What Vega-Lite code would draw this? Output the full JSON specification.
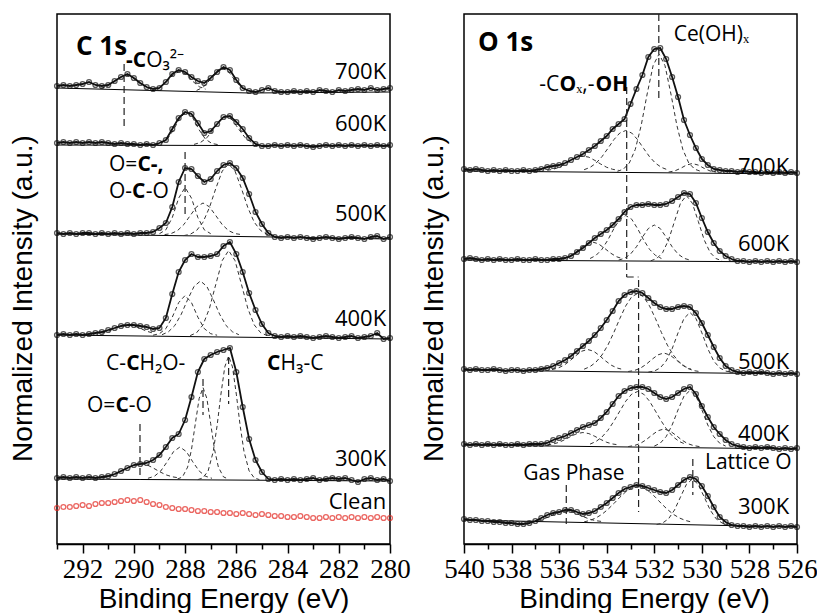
{
"$schema": "https://vega.github.io/schema/vega-lite/v6.json",
"padding": {"left": 8, "top": 12, "right": 0, "bottom": 0},
"spacing": 8,
"config": {
  "view": {"stroke": "black", "strokeWidth": 1.5},
  "axis": {"domainColor": "black", "tickColor": "black", "domainWidth": 1.5, "tickWidth": 1.5, "labelColor": "black", "titleColor": "black", "titleFontWeight": "normal", "labelFont": "Liberation Sans Narrow", "titleFont": "Liberation Sans", "labelFontSize": 27, "titleFontSize": 28, "grid": false}
},
"datasets": {
"cobs": [
{"s":"700K","e":293,"y":458},{"s":"700K","e":292.75,"y":459},{"s":"700K","e":292.5,"y":458},{"s":"700K","e":292.25,"y":459},{"s":"700K","e":292,"y":460},{"s":"700K","e":291.75,"y":462},{"s":"700K","e":291.5,"y":459},{"s":"700K","e":291.25,"y":458},{"s":"700K","e":291,"y":459},{"s":"700K","e":290.75,"y":463},{"s":"700K","e":290.5,"y":467},{"s":"700K","e":290.25,"y":470},{"s":"700K","e":290,"y":466},{"s":"700K","e":289.75,"y":461},{"s":"700K","e":289.5,"y":457},{"s":"700K","e":289.25,"y":455},{"s":"700K","e":289,"y":456},{"s":"700K","e":288.75,"y":462},{"s":"700K","e":288.5,"y":470},{"s":"700K","e":288.25,"y":474},{"s":"700K","e":288,"y":472},{"s":"700K","e":287.75,"y":467},{"s":"700K","e":287.5,"y":463},{"s":"700K","e":287.25,"y":461},{"s":"700K","e":287,"y":466},{"s":"700K","e":286.75,"y":472},{"s":"700K","e":286.5,"y":477},{"s":"700K","e":286.25,"y":474},{"s":"700K","e":286,"y":464},{"s":"700K","e":285.75,"y":456},{"s":"700K","e":285.5,"y":453},{"s":"700K","e":285.25,"y":452},{"s":"700K","e":285,"y":454},{"s":"700K","e":284.75,"y":456},{"s":"700K","e":284.5,"y":453},{"s":"700K","e":284.25,"y":452},{"s":"700K","e":284,"y":452},{"s":"700K","e":283.75,"y":453},{"s":"700K","e":283.5,"y":452},{"s":"700K","e":283.25,"y":453},{"s":"700K","e":283,"y":452},{"s":"700K","e":282.75,"y":454},{"s":"700K","e":282.5,"y":453},{"s":"700K","e":282.25,"y":452},{"s":"700K","e":282,"y":454},{"s":"700K","e":281.75,"y":453},{"s":"700K","e":281.5,"y":454},{"s":"700K","e":281.25,"y":455},{"s":"700K","e":281,"y":454},{"s":"700K","e":280.75,"y":456},{"s":"700K","e":280.5,"y":454},{"s":"700K","e":280.25,"y":455},{"s":"700K","e":280,"y":456},
{"s":"600K","e":293,"y":401},{"s":"600K","e":292.75,"y":402},{"s":"600K","e":292.5,"y":401},{"s":"600K","e":292.25,"y":402},{"s":"600K","e":292,"y":401},{"s":"600K","e":291.75,"y":402},{"s":"600K","e":291.5,"y":401},{"s":"600K","e":291.25,"y":402},{"s":"600K","e":291,"y":401},{"s":"600K","e":290.75,"y":400},{"s":"600K","e":290.5,"y":401},{"s":"600K","e":290.25,"y":400},{"s":"600K","e":290,"y":400},{"s":"600K","e":289.75,"y":399},{"s":"600K","e":289.5,"y":400},{"s":"600K","e":289.25,"y":399},{"s":"600K","e":289,"y":401},{"s":"600K","e":288.75,"y":404},{"s":"600K","e":288.5,"y":415},{"s":"600K","e":288.25,"y":426},{"s":"600K","e":288,"y":432},{"s":"600K","e":287.75,"y":430},{"s":"600K","e":287.5,"y":421},{"s":"600K","e":287.25,"y":411},{"s":"600K","e":287,"y":413},{"s":"600K","e":286.75,"y":420},{"s":"600K","e":286.5,"y":427},{"s":"600K","e":286.25,"y":428},{"s":"600K","e":286,"y":422},{"s":"600K","e":285.75,"y":415},{"s":"600K","e":285.5,"y":406},{"s":"600K","e":285.25,"y":400},{"s":"600K","e":285,"y":398},{"s":"600K","e":284.75,"y":398},{"s":"600K","e":284.5,"y":399},{"s":"600K","e":284.25,"y":398},{"s":"600K","e":284,"y":399},{"s":"600K","e":283.75,"y":398},{"s":"600K","e":283.5,"y":399},{"s":"600K","e":283.25,"y":398},{"s":"600K","e":283,"y":397},{"s":"600K","e":282.75,"y":398},{"s":"600K","e":282.5,"y":399},{"s":"600K","e":282.25,"y":398},{"s":"600K","e":282,"y":399},{"s":"600K","e":281.75,"y":398},{"s":"600K","e":281.5,"y":399},{"s":"600K","e":281.25,"y":398},{"s":"600K","e":281,"y":399},{"s":"600K","e":280.75,"y":398},{"s":"600K","e":280.5,"y":399},{"s":"600K","e":280.25,"y":398},{"s":"600K","e":280,"y":399},
{"s":"500K","e":293,"y":311},{"s":"500K","e":292.75,"y":310},{"s":"500K","e":292.5,"y":311},{"s":"500K","e":292.25,"y":310},{"s":"500K","e":292,"y":311},{"s":"500K","e":291.75,"y":311},{"s":"500K","e":291.5,"y":310},{"s":"500K","e":291.25,"y":311},{"s":"500K","e":291,"y":310},{"s":"500K","e":290.75,"y":311},{"s":"500K","e":290.5,"y":310},{"s":"500K","e":290.25,"y":311},{"s":"500K","e":290,"y":310},{"s":"500K","e":289.75,"y":311},{"s":"500K","e":289.5,"y":311},{"s":"500K","e":289.25,"y":312},{"s":"500K","e":289,"y":316},{"s":"500K","e":288.75,"y":321},{"s":"500K","e":288.5,"y":337},{"s":"500K","e":288.25,"y":362},{"s":"500K","e":288,"y":376},{"s":"500K","e":287.75,"y":375},{"s":"500K","e":287.5,"y":368},{"s":"500K","e":287.25,"y":362},{"s":"500K","e":287,"y":365},{"s":"500K","e":286.75,"y":373},{"s":"500K","e":286.5,"y":379},{"s":"500K","e":286.25,"y":381},{"s":"500K","e":286,"y":376},{"s":"500K","e":285.75,"y":366},{"s":"500K","e":285.5,"y":350},{"s":"500K","e":285.25,"y":332},{"s":"500K","e":285,"y":320},{"s":"500K","e":284.75,"y":311},{"s":"500K","e":284.5,"y":307},{"s":"500K","e":284.25,"y":306},{"s":"500K","e":284,"y":307},{"s":"500K","e":283.75,"y":306},{"s":"500K","e":283.5,"y":307},{"s":"500K","e":283.25,"y":306},{"s":"500K","e":283,"y":305},{"s":"500K","e":282.75,"y":306},{"s":"500K","e":282.5,"y":307},{"s":"500K","e":282.25,"y":306},{"s":"500K","e":282,"y":305},{"s":"500K","e":281.75,"y":306},{"s":"500K","e":281.5,"y":307},{"s":"500K","e":281.25,"y":306},{"s":"500K","e":281,"y":305},{"s":"500K","e":280.75,"y":307},{"s":"500K","e":280.5,"y":308},{"s":"500K","e":280.25,"y":305},{"s":"500K","e":280,"y":307},
{"s":"400K","e":293,"y":209},{"s":"400K","e":292.75,"y":210},{"s":"400K","e":292.5,"y":209},{"s":"400K","e":292.25,"y":210},{"s":"400K","e":292,"y":209},{"s":"400K","e":291.75,"y":210},{"s":"400K","e":291.5,"y":211},{"s":"400K","e":291.25,"y":212},{"s":"400K","e":291,"y":214},{"s":"400K","e":290.75,"y":216},{"s":"400K","e":290.5,"y":218},{"s":"400K","e":290.25,"y":219},{"s":"400K","e":290,"y":219},{"s":"400K","e":289.75,"y":218},{"s":"400K","e":289.5,"y":217},{"s":"400K","e":289.25,"y":215},{"s":"400K","e":289,"y":216},{"s":"400K","e":288.75,"y":226},{"s":"400K","e":288.5,"y":250},{"s":"400K","e":288.25,"y":272},{"s":"400K","e":288,"y":284},{"s":"400K","e":287.75,"y":290},{"s":"400K","e":287.5,"y":287},{"s":"400K","e":287.25,"y":287},{"s":"400K","e":287,"y":288},{"s":"400K","e":286.75,"y":290},{"s":"400K","e":286.5,"y":298},{"s":"400K","e":286.25,"y":302},{"s":"400K","e":286,"y":290},{"s":"400K","e":285.75,"y":272},{"s":"400K","e":285.5,"y":251},{"s":"400K","e":285.25,"y":234},{"s":"400K","e":285,"y":220},{"s":"400K","e":284.75,"y":211},{"s":"400K","e":284.5,"y":208},{"s":"400K","e":284.25,"y":207},{"s":"400K","e":284,"y":208},{"s":"400K","e":283.75,"y":207},{"s":"400K","e":283.5,"y":208},{"s":"400K","e":283.25,"y":207},{"s":"400K","e":283,"y":206},{"s":"400K","e":282.75,"y":207},{"s":"400K","e":282.5,"y":208},{"s":"400K","e":282.25,"y":207},{"s":"400K","e":282,"y":206},{"s":"400K","e":281.75,"y":207},{"s":"400K","e":281.5,"y":208},{"s":"400K","e":281.25,"y":206},{"s":"400K","e":281,"y":207},{"s":"400K","e":280.75,"y":208},{"s":"400K","e":280.5,"y":211},{"s":"400K","e":280.25,"y":205},{"s":"400K","e":280,"y":206},
{"s":"300K","e":293,"y":66},{"s":"300K","e":292.75,"y":67},{"s":"300K","e":292.5,"y":66},{"s":"300K","e":292.25,"y":67},{"s":"300K","e":292,"y":66},{"s":"300K","e":291.75,"y":67},{"s":"300K","e":291.5,"y":66},{"s":"300K","e":291.25,"y":67},{"s":"300K","e":291,"y":68},{"s":"300K","e":290.75,"y":70},{"s":"300K","e":290.5,"y":73},{"s":"300K","e":290.25,"y":76},{"s":"300K","e":290,"y":79},{"s":"300K","e":289.75,"y":80},{"s":"300K","e":289.5,"y":81},{"s":"300K","e":289.25,"y":84},{"s":"300K","e":289,"y":89},{"s":"300K","e":288.75,"y":97},{"s":"300K","e":288.5,"y":106},{"s":"300K","e":288.25,"y":110},{"s":"300K","e":288,"y":124},{"s":"300K","e":287.75,"y":147},{"s":"300K","e":287.5,"y":172},{"s":"300K","e":287.25,"y":185},{"s":"300K","e":287,"y":189},{"s":"300K","e":286.75,"y":192},{"s":"300K","e":286.5,"y":194},{"s":"300K","e":286.25,"y":196},{"s":"300K","e":286,"y":172},{"s":"300K","e":285.75,"y":137},{"s":"300K","e":285.5,"y":105},{"s":"300K","e":285.25,"y":84},{"s":"300K","e":285,"y":72},{"s":"300K","e":284.75,"y":65},{"s":"300K","e":284.5,"y":64},{"s":"300K","e":284.25,"y":65},{"s":"300K","e":284,"y":64},{"s":"300K","e":283.75,"y":65},{"s":"300K","e":283.5,"y":64},{"s":"300K","e":283.25,"y":65},{"s":"300K","e":283,"y":66},{"s":"300K","e":282.75,"y":64},{"s":"300K","e":282.5,"y":65},{"s":"300K","e":282.25,"y":66},{"s":"300K","e":282,"y":65},{"s":"300K","e":281.75,"y":66},{"s":"300K","e":281.5,"y":64},{"s":"300K","e":281.25,"y":62},{"s":"300K","e":281,"y":65},{"s":"300K","e":280.75,"y":66},{"s":"300K","e":280.5,"y":64},{"s":"300K","e":280.25,"y":65},{"s":"300K","e":280,"y":63},
{"s":"Clean","e":293,"y":36},{"s":"Clean","e":292.75,"y":37},{"s":"Clean","e":292.5,"y":37},{"s":"Clean","e":292.25,"y":38},{"s":"Clean","e":292,"y":39},{"s":"Clean","e":291.75,"y":38},{"s":"Clean","e":291.5,"y":40},{"s":"Clean","e":291.25,"y":41},{"s":"Clean","e":291,"y":41},{"s":"Clean","e":290.75,"y":42},{"s":"Clean","e":290.5,"y":43},{"s":"Clean","e":290.25,"y":44},{"s":"Clean","e":290,"y":43},{"s":"Clean","e":289.75,"y":44},{"s":"Clean","e":289.5,"y":42},{"s":"Clean","e":289.25,"y":40},{"s":"Clean","e":289,"y":39},{"s":"Clean","e":288.75,"y":37},{"s":"Clean","e":288.5,"y":36},{"s":"Clean","e":288.25,"y":35},{"s":"Clean","e":288,"y":35},{"s":"Clean","e":287.75,"y":34},{"s":"Clean","e":287.5,"y":33},{"s":"Clean","e":287.25,"y":33},{"s":"Clean","e":287,"y":32},{"s":"Clean","e":286.75,"y":32},{"s":"Clean","e":286.5,"y":31},{"s":"Clean","e":286.25,"y":31},{"s":"Clean","e":286,"y":30},{"s":"Clean","e":285.75,"y":31},{"s":"Clean","e":285.5,"y":30},{"s":"Clean","e":285.25,"y":29},{"s":"Clean","e":285,"y":30},{"s":"Clean","e":284.75,"y":29},{"s":"Clean","e":284.5,"y":28},{"s":"Clean","e":284.25,"y":28},{"s":"Clean","e":284,"y":27},{"s":"Clean","e":283.75,"y":27},{"s":"Clean","e":283.5,"y":28},{"s":"Clean","e":283.25,"y":27},{"s":"Clean","e":283,"y":26},{"s":"Clean","e":282.75,"y":26},{"s":"Clean","e":282.5,"y":27},{"s":"Clean","e":282.25,"y":26},{"s":"Clean","e":282,"y":27},{"s":"Clean","e":281.75,"y":26},{"s":"Clean","e":281.5,"y":27},{"s":"Clean","e":281.25,"y":26},{"s":"Clean","e":281,"y":27},{"s":"Clean","e":280.75,"y":26},{"s":"Clean","e":280.5,"y":27},{"s":"Clean","e":280.25,"y":26},{"s":"Clean","e":280,"y":26}
],
"cbg": [
{"s":"700K","e":293,"y":456},{"s":"700K","e":285.5,"y":451},{"s":"700K","e":280,"y":452},
{"s":"600K","e":293,"y":399},{"s":"600K","e":280,"y":398},
{"s":"500K","e":293,"y":310},{"s":"500K","e":284.5,"y":307},{"s":"500K","e":280,"y":305},
{"s":"400K","e":293,"y":209},{"s":"400K","e":280,"y":205},
{"s":"300K","e":293,"y":65},{"s":"300K","e":280,"y":63}
],
"cc": [
{"c":"7a","e":289.3,"y":455.6},{"c":"7a","e":289.55,"y":457.4},{"c":"7a","e":289.8,"y":461.4},{"c":"7a","e":290.05,"y":466.5},{"c":"7a","e":290.3,"y":469},{"c":"7a","e":290.55,"y":466.5},{"c":"7a","e":290.8,"y":461.4},{"c":"7a","e":291.05,"y":457.4},{"c":"7a","e":291.3,"y":455.6},
{"c":"7b","e":287.2,"y":454.8},{"c":"7b","e":287.45,"y":457.3},{"c":"7b","e":287.7,"y":462.7},{"c":"7b","e":287.95,"y":469.6},{"c":"7b","e":288.2,"y":473},{"c":"7b","e":288.45,"y":469.6},{"c":"7b","e":288.7,"y":462.7},{"c":"7b","e":288.95,"y":457.3},{"c":"7b","e":289.2,"y":454.8},
{"c":"7c","e":285.55,"y":453.6},{"c":"7c","e":285.8,"y":456.6},{"c":"7c","e":286.05,"y":463.5},{"c":"7c","e":286.3,"y":472.3},{"c":"7c","e":286.55,"y":476.5},{"c":"7c","e":286.8,"y":472.3},{"c":"7c","e":287.05,"y":463.5},{"c":"7c","e":287.3,"y":456.6},{"c":"7c","e":287.55,"y":453.6},
{"c":"6a","e":286.7,"y":399.3},{"c":"6a","e":286.95,"y":400.5},{"c":"6a","e":287.2,"y":404.7},{"c":"6a","e":287.45,"y":414.1},{"c":"6a","e":287.7,"y":426.2},{"c":"6a","e":287.95,"y":432},{"c":"6a","e":288.2,"y":426.2},{"c":"6a","e":288.45,"y":414.1},{"c":"6a","e":288.7,"y":404.7},{"c":"6a","e":288.95,"y":400.5},{"c":"6a","e":289.2,"y":399.3},
{"c":"6b","e":285.15,"y":399.6},{"c":"6b","e":285.4,"y":401.5},{"c":"6b","e":285.65,"y":406.2},{"c":"6b","e":285.9,"y":414.6},{"c":"6b","e":286.15,"y":423.9},{"c":"6b","e":286.4,"y":428},{"c":"6b","e":286.65,"y":423.9},{"c":"6b","e":286.9,"y":414.6},{"c":"6b","e":287.15,"y":406.2},{"c":"6b","e":287.4,"y":401.5},{"c":"6b","e":287.65,"y":399.6},
{"c":"5a","e":287,"y":310.3},{"c":"5a","e":287.25,"y":314.2},{"c":"5a","e":287.5,"y":326.4},{"c":"5a","e":287.75,"y":345.9},{"c":"5a","e":288,"y":356.5},{"c":"5a","e":288.25,"y":345.9},{"c":"5a","e":288.5,"y":326.4},{"c":"5a","e":288.75,"y":314.2},{"c":"5a","e":289,"y":310.3},
{"c":"5b","e":285.8,"y":309.4},{"c":"5b","e":286.05,"y":310.4},{"c":"5b","e":286.3,"y":313.3},{"c":"5b","e":286.55,"y":319.4},{"c":"5b","e":286.8,"y":328.4},{"c":"5b","e":287.05,"y":337.2},{"c":"5b","e":287.3,"y":341},{"c":"5b","e":287.55,"y":337.2},{"c":"5b","e":287.8,"y":328.4},{"c":"5b","e":288.05,"y":319.4},{"c":"5b","e":288.3,"y":313.3},{"c":"5b","e":288.55,"y":310.4},{"c":"5b","e":288.8,"y":309.4},
{"c":"5c","e":284.55,"y":308.4},{"c":"5c","e":284.8,"y":309.7},{"c":"5c","e":285.05,"y":313.5},{"c":"5c","e":285.3,"y":321.8},{"c":"5c","e":285.55,"y":336.4},{"c":"5c","e":285.8,"y":355.6},{"c":"5c","e":286.05,"y":372.9},{"c":"5c","e":286.3,"y":380},{"c":"5c","e":286.55,"y":372.9},{"c":"5c","e":286.8,"y":355.6},{"c":"5c","e":287.05,"y":336.4},{"c":"5c","e":287.3,"y":321.8},{"c":"5c","e":287.55,"y":313.5},{"c":"5c","e":287.8,"y":309.7},{"c":"5c","e":288.05,"y":308.4},
{"c":"4z","e":289.25,"y":210.9},{"c":"4z","e":289.5,"y":212.8},{"c":"4z","e":289.75,"y":215.6},{"c":"4z","e":290,"y":218.3},{"c":"4z","e":290.25,"y":219.5},{"c":"4z","e":290.5,"y":218.3},{"c":"4z","e":290.75,"y":215.6},{"c":"4z","e":291,"y":212.8},{"c":"4z","e":291.25,"y":210.9},
{"c":"4a","e":286.75,"y":208.8},{"c":"4a","e":287,"y":210.3},{"c":"4a","e":287.25,"y":215.4},{"c":"4a","e":287.5,"y":226.8},{"c":"4a","e":287.75,"y":241.4},{"c":"4a","e":288,"y":248.5},{"c":"4a","e":288.25,"y":241.4},{"c":"4a","e":288.5,"y":226.8},{"c":"4a","e":288.75,"y":215.4},{"c":"4a","e":289,"y":210.3},{"c":"4a","e":289.25,"y":208.8},
{"c":"4b","e":285.9,"y":209.3},{"c":"4b","e":286.15,"y":212.2},{"c":"4b","e":286.4,"y":218.5},{"c":"4b","e":286.65,"y":229.7},{"c":"4b","e":286.9,"y":244.4},{"c":"4b","e":287.15,"y":257.6},{"c":"4b","e":287.4,"y":263},{"c":"4b","e":287.65,"y":257.6},{"c":"4b","e":287.9,"y":244.4},{"c":"4b","e":288.15,"y":229.7},{"c":"4b","e":288.4,"y":218.5},{"c":"4b","e":288.65,"y":212.2},{"c":"4b","e":288.9,"y":209.3},
{"c":"4c","e":284.8,"y":208.4},{"c":"4c","e":285.05,"y":211.3},{"c":"4c","e":285.3,"y":219.1},{"c":"4c","e":285.55,"y":235.5},{"c":"4c","e":285.8,"y":259.7},{"c":"4c","e":286.05,"y":283.4},{"c":"4c","e":286.3,"y":293.5},{"c":"4c","e":286.55,"y":283.4},{"c":"4c","e":286.8,"y":259.7},{"c":"4c","e":287.05,"y":235.5},{"c":"4c","e":287.3,"y":219.1},{"c":"4c","e":287.55,"y":211.3},{"c":"4c","e":287.8,"y":208.4},
{"c":"3a","e":288.25,"y":66.2},{"c":"3a","e":288.5,"y":67.2},{"c":"3a","e":288.75,"y":69.2},{"c":"3a","e":289,"y":72.4},{"c":"3a","e":289.25,"y":76.1},{"c":"3a","e":289.5,"y":79.3},{"c":"3a","e":289.75,"y":80.5},{"c":"3a","e":290,"y":79.3},{"c":"3a","e":290.25,"y":76.1},{"c":"3a","e":290.5,"y":72.4},{"c":"3a","e":290.75,"y":69.2},{"c":"3a","e":291,"y":67.2},{"c":"3a","e":291.25,"y":66.2},
{"c":"3b","e":286.95,"y":65.7},{"c":"3b","e":287.2,"y":67.7},{"c":"3b","e":287.45,"y":73},{"c":"3b","e":287.7,"y":82.2},{"c":"3b","e":287.95,"y":92.4},{"c":"3b","e":288.2,"y":97},{"c":"3b","e":288.45,"y":92.4},{"c":"3b","e":288.7,"y":82.2},{"c":"3b","e":288.95,"y":73},{"c":"3b","e":289.2,"y":67.7},{"c":"3b","e":289.45,"y":65.7},
{"c":"3c","e":286.3,"y":64.9},{"c":"3c","e":286.5,"y":67.1},{"c":"3c","e":286.7,"y":76.9},{"c":"3c","e":286.85,"y":94.4},{"c":"3c","e":287,"y":120.3},{"c":"3c","e":287.15,"y":145.6},{"c":"3c","e":287.3,"y":156.5},{"c":"3c","e":287.45,"y":145.6},{"c":"3c","e":287.6,"y":120.3},{"c":"3c","e":287.75,"y":94.4},{"c":"3c","e":287.9,"y":76.9},{"c":"3c","e":288.1,"y":67.1},{"c":"3c","e":288.3,"y":64.9},
{"c":"3d","e":285.1,"y":64.4},{"c":"3d","e":285.3,"y":66.1},{"c":"3d","e":285.5,"y":73.1},{"c":"3d","e":285.7,"y":92.5},{"c":"3d","e":285.85,"y":118.3},{"c":"3d","e":286,"y":149.9},{"c":"3d","e":286.15,"y":177.1},{"c":"3d","e":286.3,"y":188},{"c":"3d","e":286.45,"y":177.1},{"c":"3d","e":286.6,"y":149.9},{"c":"3d","e":286.75,"y":118.3},{"c":"3d","e":286.9,"y":92.5},{"c":"3d","e":287.1,"y":73.1},{"c":"3d","e":287.3,"y":66.1},{"c":"3d","e":287.5,"y":64.4}
],
"cref": [
{"e":290.38,"y":480,"y2":417},{"e":288.0,"y":392,"y2":330},{"e":289.76,"y":120,"y2":64},{"e":287.3,"y":165,"y2":129},{"e":286.3,"y":187,"y2":140}
],
"clab": [
{"e":280.15,"y":472,"t":"700K"},{"e":280.15,"y":420,"t":"600K"},{"e":280.15,"y":330,"t":"500K"},{"e":280.15,"y":225,"t":"400K"},{"e":280.15,"y":85,"t":"300K"},{"e":280.15,"y":42,"t":"Clean"}
],
"cann": [
{"e":289.52,"y":483,"t":"O₃²⁻"},{"e":290.97,"y":379,"t":"O="},{"e":290.97,"y":352,"t":"O-"},{"e":289.54,"y":352,"t":"-O"},{"e":291.09,"y":180,"t":"C-"},{"e":289.78,"y":180,"t":"H₂O-"},{"e":284.27,"y":180,"t":"H₃-C"},{"e":291.83,"y":138,"t":"O="},{"e":290.2,"y":138,"t":"-O"}
],
"cbold": [
{"e":290.305,"y":483,"t":"-C"},{"e":289.86,"y":379,"t":"C-,"},{"e":290.07,"y":352,"t":"C"},{"e":290.3,"y":180,"t":"C"},{"e":284.8,"y":180,"t":"C"},{"e":290.72,"y":138,"t":"C"}
],
"ctitle": [{"e":292.26,"y":497,"t":"C 1s"}],
"oobs": [
{"s":"700K","e":540,"y":375},{"s":"700K","e":539.75,"y":374},{"s":"700K","e":539.5,"y":375},{"s":"700K","e":539.25,"y":374},{"s":"700K","e":539,"y":373},{"s":"700K","e":538.75,"y":374},{"s":"700K","e":538.5,"y":373},{"s":"700K","e":538.25,"y":374},{"s":"700K","e":538,"y":373},{"s":"700K","e":537.75,"y":373},{"s":"700K","e":537.5,"y":374},{"s":"700K","e":537.25,"y":373},{"s":"700K","e":537,"y":374},{"s":"700K","e":536.75,"y":375},{"s":"700K","e":536.5,"y":377},{"s":"700K","e":536.25,"y":378},{"s":"700K","e":536,"y":379},{"s":"700K","e":535.75,"y":381},{"s":"700K","e":535.5,"y":384},{"s":"700K","e":535.25,"y":387},{"s":"700K","e":535,"y":390},{"s":"700K","e":534.75,"y":394},{"s":"700K","e":534.5,"y":398},{"s":"700K","e":534.25,"y":403},{"s":"700K","e":534,"y":408},{"s":"700K","e":533.75,"y":415},{"s":"700K","e":533.5,"y":420},{"s":"700K","e":533.25,"y":425},{"s":"700K","e":533,"y":440},{"s":"700K","e":532.75,"y":455},{"s":"700K","e":532.5,"y":469},{"s":"700K","e":532.25,"y":487},{"s":"700K","e":532,"y":495},{"s":"700K","e":531.75,"y":496},{"s":"700K","e":531.5,"y":485},{"s":"700K","e":531.25,"y":467},{"s":"700K","e":531,"y":447},{"s":"700K","e":530.75,"y":424},{"s":"700K","e":530.5,"y":409},{"s":"700K","e":530.25,"y":396},{"s":"700K","e":530,"y":385},{"s":"700K","e":529.75,"y":379},{"s":"700K","e":529.5,"y":375},{"s":"700K","e":529.25,"y":374},{"s":"700K","e":529,"y":373},{"s":"700K","e":528.75,"y":373},{"s":"700K","e":528.5,"y":372},{"s":"700K","e":528.25,"y":373},{"s":"700K","e":528,"y":372},{"s":"700K","e":527.75,"y":372},{"s":"700K","e":527.5,"y":371},{"s":"700K","e":527.25,"y":372},{"s":"700K","e":527,"y":371},{"s":"700K","e":526.75,"y":372},{"s":"700K","e":526.5,"y":371},{"s":"700K","e":526.25,"y":372},{"s":"700K","e":526,"y":371},
{"s":"600K","e":540,"y":285},{"s":"600K","e":539.75,"y":286},{"s":"600K","e":539.5,"y":285},{"s":"600K","e":539.25,"y":284},{"s":"600K","e":539,"y":285},{"s":"600K","e":538.75,"y":284},{"s":"600K","e":538.5,"y":285},{"s":"600K","e":538.25,"y":284},{"s":"600K","e":538,"y":284},{"s":"600K","e":537.75,"y":285},{"s":"600K","e":537.5,"y":284},{"s":"600K","e":537.25,"y":284},{"s":"600K","e":537,"y":285},{"s":"600K","e":536.75,"y":284},{"s":"600K","e":536.5,"y":284},{"s":"600K","e":536.25,"y":285},{"s":"600K","e":536,"y":285},{"s":"600K","e":535.75,"y":286},{"s":"600K","e":535.5,"y":288},{"s":"600K","e":535.25,"y":292},{"s":"600K","e":535,"y":296},{"s":"600K","e":534.75,"y":301},{"s":"600K","e":534.5,"y":306},{"s":"600K","e":534.25,"y":310},{"s":"600K","e":534,"y":314},{"s":"600K","e":533.75,"y":319},{"s":"600K","e":533.5,"y":325},{"s":"600K","e":533.25,"y":332},{"s":"600K","e":533,"y":337},{"s":"600K","e":532.75,"y":339},{"s":"600K","e":532.5,"y":339},{"s":"600K","e":532.25,"y":340},{"s":"600K","e":532,"y":339},{"s":"600K","e":531.75,"y":339},{"s":"600K","e":531.5,"y":340},{"s":"600K","e":531.25,"y":343},{"s":"600K","e":531,"y":347},{"s":"600K","e":530.75,"y":351},{"s":"600K","e":530.5,"y":350},{"s":"600K","e":530.25,"y":341},{"s":"600K","e":530,"y":326},{"s":"600K","e":529.75,"y":312},{"s":"600K","e":529.5,"y":301},{"s":"600K","e":529.25,"y":293},{"s":"600K","e":529,"y":288},{"s":"600K","e":528.75,"y":285},{"s":"600K","e":528.5,"y":283},{"s":"600K","e":528.25,"y":283},{"s":"600K","e":528,"y":282},{"s":"600K","e":527.75,"y":283},{"s":"600K","e":527.5,"y":282},{"s":"600K","e":527.25,"y":283},{"s":"600K","e":527,"y":282},{"s":"600K","e":526.75,"y":283},{"s":"600K","e":526.5,"y":282},{"s":"600K","e":526.25,"y":283},{"s":"600K","e":526,"y":282},
{"s":"500K","e":540,"y":175},{"s":"500K","e":539.75,"y":174},{"s":"500K","e":539.5,"y":175},{"s":"500K","e":539.25,"y":174},{"s":"500K","e":539,"y":174},{"s":"500K","e":538.75,"y":175},{"s":"500K","e":538.5,"y":174},{"s":"500K","e":538.25,"y":173},{"s":"500K","e":538,"y":174},{"s":"500K","e":537.75,"y":174},{"s":"500K","e":537.5,"y":173},{"s":"500K","e":537.25,"y":174},{"s":"500K","e":537,"y":174},{"s":"500K","e":536.75,"y":175},{"s":"500K","e":536.5,"y":176},{"s":"500K","e":536.25,"y":178},{"s":"500K","e":536,"y":181},{"s":"500K","e":535.75,"y":184},{"s":"500K","e":535.5,"y":188},{"s":"500K","e":535.25,"y":193},{"s":"500K","e":535,"y":198},{"s":"500K","e":534.75,"y":203},{"s":"500K","e":534.5,"y":209},{"s":"500K","e":534.25,"y":216},{"s":"500K","e":534,"y":224},{"s":"500K","e":533.75,"y":233},{"s":"500K","e":533.5,"y":243},{"s":"500K","e":533.25,"y":249},{"s":"500K","e":533,"y":252},{"s":"500K","e":532.75,"y":253},{"s":"500K","e":532.5,"y":251},{"s":"500K","e":532.25,"y":246},{"s":"500K","e":532,"y":241},{"s":"500K","e":531.75,"y":237},{"s":"500K","e":531.5,"y":235},{"s":"500K","e":531.25,"y":235},{"s":"500K","e":531,"y":237},{"s":"500K","e":530.75,"y":238},{"s":"500K","e":530.5,"y":237},{"s":"500K","e":530.25,"y":231},{"s":"500K","e":530,"y":221},{"s":"500K","e":529.75,"y":209},{"s":"500K","e":529.5,"y":197},{"s":"500K","e":529.25,"y":186},{"s":"500K","e":529,"y":178},{"s":"500K","e":528.75,"y":174},{"s":"500K","e":528.5,"y":172},{"s":"500K","e":528.25,"y":171},{"s":"500K","e":528,"y":172},{"s":"500K","e":527.75,"y":171},{"s":"500K","e":527.5,"y":172},{"s":"500K","e":527.25,"y":171},{"s":"500K","e":527,"y":170},{"s":"500K","e":526.75,"y":171},{"s":"500K","e":526.5,"y":170},{"s":"500K","e":526.25,"y":171},{"s":"500K","e":526,"y":170},
{"s":"400K","e":540,"y":100},{"s":"400K","e":539.75,"y":99},{"s":"400K","e":539.5,"y":100},{"s":"400K","e":539.25,"y":99},{"s":"400K","e":539,"y":100},{"s":"400K","e":538.75,"y":99},{"s":"400K","e":538.5,"y":100},{"s":"400K","e":538.25,"y":99},{"s":"400K","e":538,"y":99},{"s":"400K","e":537.75,"y":100},{"s":"400K","e":537.5,"y":99},{"s":"400K","e":537.25,"y":100},{"s":"400K","e":537,"y":100},{"s":"400K","e":536.75,"y":100},{"s":"400K","e":536.5,"y":101},{"s":"400K","e":536.25,"y":104},{"s":"400K","e":536,"y":106},{"s":"400K","e":535.75,"y":108},{"s":"400K","e":535.5,"y":111},{"s":"400K","e":535.25,"y":114},{"s":"400K","e":535,"y":117},{"s":"400K","e":534.75,"y":119},{"s":"400K","e":534.5,"y":121},{"s":"400K","e":534.25,"y":126},{"s":"400K","e":534,"y":132},{"s":"400K","e":533.75,"y":140},{"s":"400K","e":533.5,"y":148},{"s":"400K","e":533.25,"y":153},{"s":"400K","e":533,"y":156},{"s":"400K","e":532.75,"y":157},{"s":"400K","e":532.5,"y":157},{"s":"400K","e":532.25,"y":155},{"s":"400K","e":532,"y":151},{"s":"400K","e":531.75,"y":147},{"s":"400K","e":531.5,"y":145},{"s":"400K","e":531.25,"y":147},{"s":"400K","e":531,"y":151},{"s":"400K","e":530.75,"y":155},{"s":"400K","e":530.5,"y":157},{"s":"400K","e":530.25,"y":150},{"s":"400K","e":530,"y":138},{"s":"400K","e":529.75,"y":127},{"s":"400K","e":529.5,"y":117},{"s":"400K","e":529.25,"y":110},{"s":"400K","e":529,"y":104},{"s":"400K","e":528.75,"y":100},{"s":"400K","e":528.5,"y":98},{"s":"400K","e":528.25,"y":97},{"s":"400K","e":528,"y":96},{"s":"400K","e":527.75,"y":97},{"s":"400K","e":527.5,"y":96},{"s":"400K","e":527.25,"y":97},{"s":"400K","e":527,"y":96},{"s":"400K","e":526.75,"y":95},{"s":"400K","e":526.5,"y":96},{"s":"400K","e":526.25,"y":95},{"s":"400K","e":526,"y":96},
{"s":"300K","e":540,"y":25},{"s":"300K","e":539.75,"y":24},{"s":"300K","e":539.5,"y":24},{"s":"300K","e":539.25,"y":23},{"s":"300K","e":539,"y":23},{"s":"300K","e":538.75,"y":22},{"s":"300K","e":538.5,"y":22},{"s":"300K","e":538.25,"y":21},{"s":"300K","e":538,"y":21},{"s":"300K","e":537.75,"y":20},{"s":"300K","e":537.5,"y":20},{"s":"300K","e":537.25,"y":21},{"s":"300K","e":537,"y":23},{"s":"300K","e":536.75,"y":26},{"s":"300K","e":536.5,"y":29},{"s":"300K","e":536.25,"y":31},{"s":"300K","e":536,"y":32},{"s":"300K","e":535.75,"y":34},{"s":"300K","e":535.5,"y":34},{"s":"300K","e":535.25,"y":32},{"s":"300K","e":535,"y":30},{"s":"300K","e":534.75,"y":31},{"s":"300K","e":534.5,"y":33},{"s":"300K","e":534.25,"y":37},{"s":"300K","e":534,"y":41},{"s":"300K","e":533.75,"y":46},{"s":"300K","e":533.5,"y":51},{"s":"300K","e":533.25,"y":55},{"s":"300K","e":533,"y":57},{"s":"300K","e":532.75,"y":59},{"s":"300K","e":532.5,"y":58},{"s":"300K","e":532.25,"y":56},{"s":"300K","e":532,"y":54},{"s":"300K","e":531.75,"y":52},{"s":"300K","e":531.5,"y":51},{"s":"300K","e":531.25,"y":54},{"s":"300K","e":531,"y":59},{"s":"300K","e":530.75,"y":64},{"s":"300K","e":530.5,"y":67},{"s":"300K","e":530.25,"y":65},{"s":"300K","e":530,"y":58},{"s":"300K","e":529.75,"y":48},{"s":"300K","e":529.5,"y":37},{"s":"300K","e":529.25,"y":27},{"s":"300K","e":529,"y":22},{"s":"300K","e":528.75,"y":19},{"s":"300K","e":528.5,"y":18},{"s":"300K","e":528.25,"y":18},{"s":"300K","e":528,"y":17},{"s":"300K","e":527.75,"y":18},{"s":"300K","e":527.5,"y":17},{"s":"300K","e":527.25,"y":18},{"s":"300K","e":527,"y":17},{"s":"300K","e":526.75,"y":18},{"s":"300K","e":526.5,"y":17},{"s":"300K","e":526.25,"y":18},{"s":"300K","e":526,"y":17}
],
"obg": [
{"s":"700K","e":540,"y":373},{"s":"700K","e":526,"y":370},
{"s":"600K","e":540,"y":284},{"s":"600K","e":526,"y":282},
{"s":"500K","e":540,"y":174},{"s":"500K","e":526,"y":170},
{"s":"400K","e":540,"y":99},{"s":"400K","e":526,"y":95},
{"s":"300K","e":540,"y":24},{"s":"300K","e":526,"y":17}
],
"oc": [
{"c":"7a","e":533.5,"y":373.7},{"c":"7a","e":533.75,"y":374.7},{"c":"7a","e":534,"y":376.7},{"c":"7a","e":534.25,"y":379.9},{"c":"7a","e":534.5,"y":383.6},{"c":"7a","e":534.75,"y":386.8},{"c":"7a","e":535,"y":388},{"c":"7a","e":535.25,"y":386.8},{"c":"7a","e":535.5,"y":383.6},{"c":"7a","e":535.75,"y":379.9},{"c":"7a","e":536,"y":376.7},{"c":"7a","e":536.25,"y":374.7},{"c":"7a","e":536.5,"y":373.7},
{"c":"7b","e":531.45,"y":374.3},{"c":"7b","e":531.7,"y":376.6},{"c":"7b","e":531.95,"y":380.8},{"c":"7b","e":532.2,"y":387.3},{"c":"7b","e":532.45,"y":395.6},{"c":"7b","e":532.7,"y":404.3},{"c":"7b","e":532.95,"y":411},{"c":"7b","e":533.2,"y":413.5},{"c":"7b","e":533.45,"y":411},{"c":"7b","e":533.7,"y":404.3},{"c":"7b","e":533.95,"y":395.6},{"c":"7b","e":534.2,"y":387.3},{"c":"7b","e":534.45,"y":380.8},{"c":"7b","e":534.7,"y":376.6},{"c":"7b","e":534.95,"y":374.3},
{"c":"7c","e":530.05,"y":372.7},{"c":"7c","e":530.3,"y":374.8},{"c":"7c","e":530.55,"y":381},{"c":"7c","e":530.8,"y":394.5},{"c":"7c","e":531.05,"y":418.6},{"c":"7c","e":531.3,"y":450},{"c":"7c","e":531.55,"y":478.4},{"c":"7c","e":531.8,"y":490},{"c":"7c","e":532.05,"y":478.4},{"c":"7c","e":532.3,"y":450},{"c":"7c","e":532.55,"y":418.6},{"c":"7c","e":532.8,"y":394.5},{"c":"7c","e":533.05,"y":381},{"c":"7c","e":533.3,"y":374.8},{"c":"7c","e":533.55,"y":372.7},
{"c":"7d","e":529.4,"y":371.9},{"c":"7d","e":529.65,"y":373},{"c":"7d","e":529.9,"y":375.6},{"c":"7d","e":530.15,"y":378.9},{"c":"7d","e":530.4,"y":380.5},{"c":"7d","e":530.65,"y":378.9},{"c":"7d","e":530.9,"y":375.6},{"c":"7d","e":531.15,"y":373},{"c":"7d","e":531.4,"y":371.9},
{"c":"6a","e":533.35,"y":285.4},{"c":"6a","e":533.6,"y":287.4},{"c":"6a","e":533.85,"y":291.1},{"c":"6a","e":534.1,"y":295.9},{"c":"6a","e":534.35,"y":300.2},{"c":"6a","e":534.6,"y":302},{"c":"6a","e":534.85,"y":300.2},{"c":"6a","e":535.1,"y":295.9},{"c":"6a","e":535.35,"y":291.1},{"c":"6a","e":535.6,"y":287.4},{"c":"6a","e":535.85,"y":285.4},
{"c":"6b","e":531.7,"y":285.5},{"c":"6b","e":531.95,"y":288.6},{"c":"6b","e":532.2,"y":294.7},{"c":"6b","e":532.45,"y":304.1},{"c":"6b","e":532.7,"y":315.3},{"c":"6b","e":532.95,"y":324.8},{"c":"6b","e":533.2,"y":328.5},{"c":"6b","e":533.45,"y":324.8},{"c":"6b","e":533.7,"y":315.3},{"c":"6b","e":533.95,"y":304.1},{"c":"6b","e":534.2,"y":294.7},{"c":"6b","e":534.45,"y":288.6},{"c":"6b","e":534.7,"y":285.5},
{"c":"6c","e":530.5,"y":283.9},{"c":"6c","e":530.75,"y":285.7},{"c":"6c","e":531,"y":289.9},{"c":"6c","e":531.25,"y":297.2},{"c":"6c","e":531.5,"y":306.8},{"c":"6c","e":531.75,"y":315.5},{"c":"6c","e":532,"y":319},{"c":"6c","e":532.25,"y":315.5},{"c":"6c","e":532.5,"y":306.8},{"c":"6c","e":532.75,"y":297.2},{"c":"6c","e":533,"y":289.9},{"c":"6c","e":533.25,"y":285.7},{"c":"6c","e":533.5,"y":283.9},
{"c":"6d","e":529.15,"y":283.2},{"c":"6d","e":529.4,"y":285.4},{"c":"6d","e":529.65,"y":291.4},{"c":"6d","e":529.9,"y":304},{"c":"6d","e":530.15,"y":322.6},{"c":"6d","e":530.4,"y":340.7},{"c":"6d","e":530.65,"y":348.5},{"c":"6d","e":530.9,"y":340.7},{"c":"6d","e":531.15,"y":322.6},{"c":"6d","e":531.4,"y":304},{"c":"6d","e":531.65,"y":291.4},{"c":"6d","e":531.9,"y":285.4},{"c":"6d","e":532.15,"y":283.2},
{"c":"5a","e":533.3,"y":174.4},{"c":"5a","e":533.55,"y":175.9},{"c":"5a","e":533.8,"y":178.7},{"c":"5a","e":534.05,"y":183.1},{"c":"5a","e":534.3,"y":188.3},{"c":"5a","e":534.55,"y":192.8},{"c":"5a","e":534.8,"y":194.5},{"c":"5a","e":535.05,"y":192.8},{"c":"5a","e":535.3,"y":188.3},{"c":"5a","e":535.55,"y":183.1},{"c":"5a","e":535.8,"y":178.7},{"c":"5a","e":536.05,"y":175.9},{"c":"5a","e":536.3,"y":174.4},
{"c":"5b","e":530.45,"y":174.8},{"c":"5b","e":530.7,"y":177.4},{"c":"5b","e":530.95,"y":181.9},{"c":"5b","e":531.2,"y":189},{"c":"5b","e":531.45,"y":198.9},{"c":"5b","e":531.7,"y":211.5},{"c":"5b","e":531.95,"y":225.4},{"c":"5b","e":532.2,"y":238.1},{"c":"5b","e":532.45,"y":247.2},{"c":"5b","e":532.7,"y":250.5},{"c":"5b","e":532.95,"y":247.2},{"c":"5b","e":533.2,"y":238.1},{"c":"5b","e":533.45,"y":225.4},{"c":"5b","e":533.7,"y":211.5},{"c":"5b","e":533.95,"y":198.9},{"c":"5b","e":534.2,"y":189},{"c":"5b","e":534.45,"y":181.9},{"c":"5b","e":534.7,"y":177.4},{"c":"5b","e":534.95,"y":174.8},
{"c":"5c","e":530.1,"y":172.5},{"c":"5c","e":530.35,"y":173.4},{"c":"5c","e":530.6,"y":175.6},{"c":"5c","e":530.85,"y":179.5},{"c":"5c","e":531.1,"y":184.6},{"c":"5c","e":531.35,"y":189.1},{"c":"5c","e":531.6,"y":191},{"c":"5c","e":531.85,"y":189.1},{"c":"5c","e":532.1,"y":184.6},{"c":"5c","e":532.35,"y":179.5},{"c":"5c","e":532.6,"y":175.6},{"c":"5c","e":532.85,"y":173.4},{"c":"5c","e":533.1,"y":172.5},
{"c":"5d","e":528.75,"y":171.9},{"c":"5d","e":529,"y":172.9},{"c":"5d","e":529.25,"y":176.1},{"c":"5d","e":529.5,"y":183},{"c":"5d","e":529.75,"y":195.2},{"c":"5d","e":530,"y":211.2},{"c":"5d","e":530.25,"y":225.6},{"c":"5d","e":530.5,"y":231.5},{"c":"5d","e":530.75,"y":225.6},{"c":"5d","e":531,"y":211.2},{"c":"5d","e":531.25,"y":195.2},{"c":"5d","e":531.5,"y":183},{"c":"5d","e":531.75,"y":176.1},{"c":"5d","e":532,"y":172.9},{"c":"5d","e":532.25,"y":171.9},
{"c":"4a","e":533.5,"y":99.1},{"c":"4a","e":533.75,"y":100},{"c":"4a","e":534,"y":101.7},{"c":"4a","e":534.25,"y":104.5},{"c":"4a","e":534.5,"y":107.7},{"c":"4a","e":534.75,"y":110.4},{"c":"4a","e":535,"y":111.5},{"c":"4a","e":535.25,"y":110.4},{"c":"4a","e":535.5,"y":107.7},{"c":"4a","e":535.75,"y":104.5},{"c":"4a","e":536,"y":101.7},{"c":"4a","e":536.25,"y":100},{"c":"4a","e":536.5,"y":99.1},
{"c":"4b","e":530.7,"y":99.9},{"c":"4b","e":530.95,"y":102.5},{"c":"4b","e":531.2,"y":107},{"c":"4b","e":531.45,"y":113.7},{"c":"4b","e":531.7,"y":122.7},{"c":"4b","e":531.95,"y":132.9},{"c":"4b","e":532.2,"y":142.8},{"c":"4b","e":532.45,"y":149.9},{"c":"4b","e":532.7,"y":152.5},{"c":"4b","e":532.95,"y":149.9},{"c":"4b","e":533.2,"y":142.8},{"c":"4b","e":533.45,"y":132.9},{"c":"4b","e":533.7,"y":122.7},{"c":"4b","e":533.95,"y":113.7},{"c":"4b","e":534.2,"y":107},{"c":"4b","e":534.45,"y":102.5},{"c":"4b","e":534.7,"y":99.9},
{"c":"4d","e":530.1,"y":97.4},{"c":"4d","e":530.35,"y":98.4},{"c":"4d","e":530.6,"y":100.4},{"c":"4d","e":530.85,"y":104.1},{"c":"4d","e":531.1,"y":108.9},{"c":"4d","e":531.35,"y":113.2},{"c":"4d","e":531.6,"y":115},{"c":"4d","e":531.85,"y":113.2},{"c":"4d","e":532.1,"y":108.9},{"c":"4d","e":532.35,"y":104.1},{"c":"4d","e":532.6,"y":100.4},{"c":"4d","e":532.85,"y":98.4},{"c":"4d","e":533.1,"y":97.4},
{"c":"4c","e":529,"y":97.9},{"c":"4c","e":529.25,"y":100.8},{"c":"4c","e":529.5,"y":107.4},{"c":"4c","e":529.75,"y":119},{"c":"4c","e":530,"y":134.2},{"c":"4c","e":530.25,"y":147.9},{"c":"4c","e":530.5,"y":153.5},{"c":"4c","e":530.75,"y":147.9},{"c":"4c","e":531,"y":134.2},{"c":"4c","e":531.25,"y":119},{"c":"4c","e":531.5,"y":107.4},{"c":"4c","e":531.75,"y":100.8},{"c":"4c","e":532,"y":97.9},
{"c":"3a","e":534.2,"y":22.5},{"c":"3a","e":534.45,"y":23.3},{"c":"3a","e":534.7,"y":24.7},{"c":"3a","e":534.95,"y":27},{"c":"3a","e":535.2,"y":29.8},{"c":"3a","e":535.45,"y":32.1},{"c":"3a","e":535.7,"y":33},{"c":"3a","e":535.95,"y":32.1},{"c":"3a","e":536.2,"y":29.8},{"c":"3a","e":536.45,"y":27},{"c":"3a","e":536.7,"y":24.7},{"c":"3a","e":536.95,"y":23.3},{"c":"3a","e":537.2,"y":22.5},
{"c":"3b","e":530.45,"y":22.1},{"c":"3b","e":530.7,"y":23.6},{"c":"3b","e":530.95,"y":26.1},{"c":"3b","e":531.2,"y":29.7},{"c":"3b","e":531.45,"y":34.6},{"c":"3b","e":531.7,"y":40.4},{"c":"3b","e":531.95,"y":46.7},{"c":"3b","e":532.2,"y":52.2},{"c":"3b","e":532.45,"y":56.1},{"c":"3b","e":532.7,"y":57.5},{"c":"3b","e":532.95,"y":56.1},{"c":"3b","e":533.2,"y":52.2},{"c":"3b","e":533.45,"y":46.7},{"c":"3b","e":533.7,"y":40.4},{"c":"3b","e":533.95,"y":34.6},{"c":"3b","e":534.2,"y":29.7},{"c":"3b","e":534.45,"y":26.1},{"c":"3b","e":534.7,"y":23.6},{"c":"3b","e":534.95,"y":22.1},
{"c":"3c","e":528.9,"y":19.5},{"c":"3c","e":529.15,"y":21},{"c":"3c","e":529.4,"y":25.2},{"c":"3c","e":529.65,"y":34},{"c":"3c","e":529.9,"y":46.9},{"c":"3c","e":530.15,"y":59.6},{"c":"3c","e":530.4,"y":65},{"c":"3c","e":530.65,"y":59.6},{"c":"3c","e":530.9,"y":46.9},{"c":"3c","e":531.15,"y":34},{"c":"3c","e":531.4,"y":25.2},{"c":"3c","e":531.65,"y":21},{"c":"3c","e":531.9,"y":19.5}
],
"oref": [
{"e":531.81,"y":530,"y2":444},{"e":533.16,"y":457,"y2":267},{"e":532.66,"y":264,"y2":32},{"e":530.38,"y":85,"y2":49},{"e":535.7,"y":59,"y2":20}
],
"ohz": [{"e":533.16,"e2":532.66,"y":267}],
"olab": [
{"e":526.33,"y":377,"t":"700K"},{"e":526.33,"y":300,"t":"600K"},{"e":526.33,"y":182,"t":"500K"},{"e":526.33,"y":110,"t":"400K"},{"e":526.33,"y":37,"t":"300K"}
],
"oann": [
{"e":536.84,"y":459,"t":"-C"},{"e":535.28,"y":459,"t":"ₓ,-"},{"e":531.18,"y":509,"t":"Ce(OH)ₓ"},{"e":537.51,"y":70,"t":"Gas Phase"},{"e":529.87,"y":81,"t":"Lattice O"}
],
"obold": [
{"e":535.99,"y":459,"t":"O"},{"e":534.47,"y":459,"t":"OH"}
],
"otitle": [{"e":539.41,"y":501,"t":"O 1s"}]
},
"hconcat": [
{
  "width": 333, "height": 530,
  "encoding": {
    "x": {"field": "e", "type": "quantitative",
      "scale": {"domain": [280, 293], "reverse": true, "nice": false, "zero": false},
      "axis": {"title": "Binding Energy (eV)", "values": [280,281,282,283,284,285,286,287,288,289,290,291,292,293],
        "labelExpr": "datum.value % 2 === 0 ? datum.label : ''",
        "tickSize": {"condition": {"test": "datum.value % 2 === 0", "value": 9}, "value": 5},
        "labelFlush": false, "labelOverlap": false, "labelPadding": 3, "titlePadding": 3}},
    "y": {"field": "y", "type": "quantitative",
      "scale": {"domain": [0, 530], "nice": false, "zero": false},
      "axis": {"title": "Normalized Intensity (a.u.)", "titleFontSize": 28, "labels": false, "ticks": false, "domain": false, "titlePadding": 20, "titleY": 284}}
  },
  "layer": [
    {"data": {"name": "cbg"}, "mark": {"type": "line", "color": "black", "strokeWidth": 1}, "encoding": {"detail": {"field": "s"}}},
    {"data": {"name": "cc"}, "mark": {"type": "line", "color": "#333", "strokeWidth": 1, "strokeDash": [4, 3]}, "encoding": {"detail": {"field": "c"}}},
    {"data": {"name": "cobs"}, "transform": [{"filter": "datum.s !== 'Clean'"}], "mark": {"type": "line", "color": "#111", "strokeWidth": 1.8}, "encoding": {"detail": {"field": "s"}}},
    {"data": {"name": "cobs"}, "mark": {"type": "point", "shape": "circle", "filled": false, "size": 24, "strokeWidth": 1.3},
      "encoding": {"color": {"condition": {"test": "datum.s === 'Clean'", "value": "#e3261f"}, "value": "#111"}}},
    {"data": {"name": "cref"}, "mark": {"type": "rule", "color": "#222", "strokeWidth": 1.2, "strokeDash": [7, 4]}, "encoding": {"y2": {"field": "y2"}}},
    {"data": {"name": "clab"}, "mark": {"type": "text", "align": "right", "baseline": "middle", "font": "Open Sans", "fontSize": 22, "color": "black"}, "encoding": {"text": {"field": "t"}}},
    {"data": {"name": "cann"}, "mark": {"type": "text", "align": "left", "baseline": "middle", "font": "Open Sans", "fontSize": 21, "color": "black"}, "encoding": {"text": {"field": "t"}}},
    {"data": {"name": "cbold"}, "mark": {"type": "text", "align": "left", "baseline": "middle", "font": "Open Sans", "fontSize": 21, "fontWeight": "bold", "color": "black"}, "encoding": {"text": {"field": "t"}}},
    {"data": {"name": "ctitle"}, "mark": {"type": "text", "align": "left", "baseline": "middle", "font": "Open Sans", "fontSize": 26, "fontWeight": "bold", "color": "black"}, "encoding": {"text": {"field": "t"}}}
  ]
},
{
  "width": 333, "height": 530,
  "encoding": {
    "x": {"field": "e", "type": "quantitative",
      "scale": {"domain": [526, 540], "reverse": true, "nice": false, "zero": false},
      "axis": {"title": "Binding Energy (eV)", "values": [526,527,528,529,530,531,532,533,534,535,536,537,538,539,540],
        "labelExpr": "datum.value % 2 === 0 ? datum.label : ''",
        "tickSize": {"condition": {"test": "datum.value % 2 === 0", "value": 9}, "value": 5},
        "labelFlush": false, "labelOverlap": false, "labelPadding": 3, "titlePadding": 3, "titleX": 180}},
    "y": {"field": "y", "type": "quantitative",
      "scale": {"domain": [0, 530], "nice": false, "zero": false},
      "axis": {"title": "Normalized Intensity (a.u.)", "titleFontSize": 28, "labels": false, "ticks": false, "domain": false, "titlePadding": 16, "titleY": 284}}
  },
  "layer": [
    {"data": {"name": "obg"}, "mark": {"type": "line", "color": "black", "strokeWidth": 1}, "encoding": {"detail": {"field": "s"}}},
    {"data": {"name": "oc"}, "mark": {"type": "line", "color": "#333", "strokeWidth": 1, "strokeDash": [4, 3]}, "encoding": {"detail": {"field": "c"}}},
    {"data": {"name": "oobs"}, "mark": {"type": "line", "color": "#111", "strokeWidth": 1.8}, "encoding": {"detail": {"field": "s"}}},
    {"data": {"name": "oobs"}, "mark": {"type": "point", "shape": "circle", "filled": false, "size": 24, "strokeWidth": 1.3, "color": "#111"}, "encoding": {}},
    {"data": {"name": "oref"}, "mark": {"type": "rule", "color": "#222", "strokeWidth": 1.2, "strokeDash": [7, 4]}, "encoding": {"y2": {"field": "y2"}}},
    {"data": {"name": "ohz"}, "mark": {"type": "rule", "color": "#222", "strokeWidth": 1.2, "strokeDash": [7, 4]}, "encoding": {"x2": {"field": "e2"}}},
    {"data": {"name": "olab"}, "mark": {"type": "text", "align": "right", "baseline": "middle", "font": "Open Sans", "fontSize": 22, "color": "black"}, "encoding": {"text": {"field": "t"}}},
    {"data": {"name": "oann"}, "mark": {"type": "text", "align": "left", "baseline": "middle", "font": "Open Sans", "fontSize": 21, "color": "black"}, "encoding": {"text": {"field": "t"}}},
    {"data": {"name": "obold"}, "mark": {"type": "text", "align": "left", "baseline": "middle", "font": "Open Sans", "fontSize": 21, "fontWeight": "bold", "color": "black"}, "encoding": {"text": {"field": "t"}}},
    {"data": {"name": "otitle"}, "mark": {"type": "text", "align": "left", "baseline": "middle", "font": "Open Sans", "fontSize": 26, "fontWeight": "bold", "color": "black"}, "encoding": {"text": {"field": "t"}}}
  ]
}
]
}
